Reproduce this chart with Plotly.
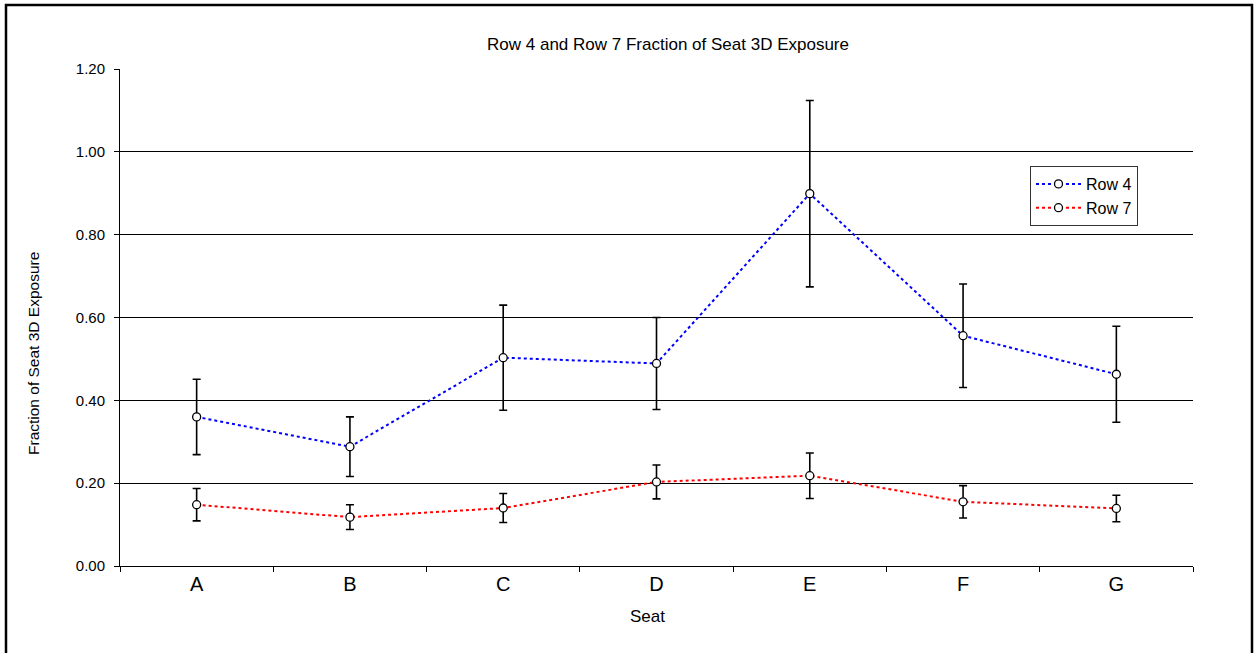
import plotly.graph_objects as go

# Seat positions along the row
seats = ["A", "B", "C", "D", "E", "F", "G"]

# Mean fraction of seat 3D exposure and its error (+/-) for each row
row4_mean = [0.360, 0.288, 0.503, 0.489, 0.899, 0.556, 0.463]
row4_err = [0.091, 0.072, 0.127, 0.111, 0.225, 0.125, 0.116]
row7_mean = [0.148, 0.118, 0.140, 0.203, 0.218, 0.155, 0.139]
row7_err = [0.039, 0.030, 0.035, 0.041, 0.055, 0.039, 0.032]

y_ticks = [0.0, 0.2, 0.4, 0.6, 0.8, 1.0, 1.2]

FONT = "Liberation Sans, Arial, sans-serif"
W, H = 1257, 653
ML, MR, MT, MB = 120, 64, 69, 87


def series(name, y, err, color):
    return go.Scatter(
        x=seats, y=y, name=name, mode="lines+markers",
        line=dict(color=color, width=2, dash="dot"),
        marker=dict(symbol="circle", size=8, color="white",
                    line=dict(color="black", width=1.3)),
        error_y=dict(type="data", array=err, visible=True,
                     color="black", thickness=1.6, width=4),
    )


fig = go.Figure()
fig.add_trace(series("Row 4", row4_mean, row4_err, "#0000ff"))
fig.add_trace(series("Row 7", row7_mean, row7_err, "#ff0000"))

# Pixel -> paper-coordinate helpers (paper spans the plot area)
pw, ph = W - ML - MR, H - MT - MB


def px_x(v):
    return (v - ML) / pw


def px_y(v):
    return (H - MB - v) / ph


# Frame around the whole chart
fig.add_shape(type="rect", xref="paper", yref="paper",
              x0=px_x(6), x1=px_x(1252), y0=px_y(5), y1=px_y(700),
              line=dict(color="black", width=2.5), fillcolor="rgba(0,0,0,0)",
              layer="above")

# Axis titles
fig.add_annotation(text="Fraction of Seat 3D Exposure", xref="paper", yref="paper",
                   x=px_x(33), y=px_y(354), textangle=-90, showarrow=False,
                   xanchor="center", yanchor="middle",
                   font=dict(family=FONT, size=15.5, color="black"))
fig.add_annotation(text="Seat", xref="paper", yref="paper",
                   x=px_x(647), y=px_y(616), showarrow=False,
                   xanchor="center", yanchor="middle",
                   font=dict(family=FONT, size=17, color="black"))

fig.update_layout(
    width=W, height=H,
    margin=dict(l=ML, r=MR, t=MT, b=MB, pad=0),
    paper_bgcolor="white", plot_bgcolor="white",
    font=dict(family=FONT, color="black", size=13),
    title=dict(text="Row 4 and Row 7 Fraction of Seat 3D Exposure",
               x=px_x(668), xref="paper", xanchor="center",
               y=1 - 44 / H, yanchor="middle",
               font=dict(family=FONT, size=17, color="black")),
    showlegend=True,
    legend=dict(x=px_x(1030), y=px_y(166), xanchor="left", yanchor="top",
                bordercolor="#333333", borderwidth=1, bgcolor="white",
                font=dict(family=FONT, size=16, color="black"),
                itemwidth=45),
)

fig.update_xaxes(
    type="category", categoryorder="array", categoryarray=seats,
    range=[-0.5, len(seats) - 0.5],
    showline=True, linecolor="black", linewidth=1.2, mirror=False,
    ticks="outside", tickson="boundaries", ticklen=5, tickcolor="black",
    showgrid=False, zeroline=False,
    tickfont=dict(family=FONT, size=20, color="black"),
)

fig.update_yaxes(
    range=[0, 1.2], tickvals=y_ticks, tickformat=".2f",
    showline=True, linecolor="black", linewidth=1,
    ticks="outside", ticklen=5, tickcolor="black", ticklabelstandoff=6,
    showgrid=True, gridcolor="black", gridwidth=1, zeroline=False,
    tickfont=dict(family=FONT, size=15, color="black"),
)

fig.write_html("out.html")
